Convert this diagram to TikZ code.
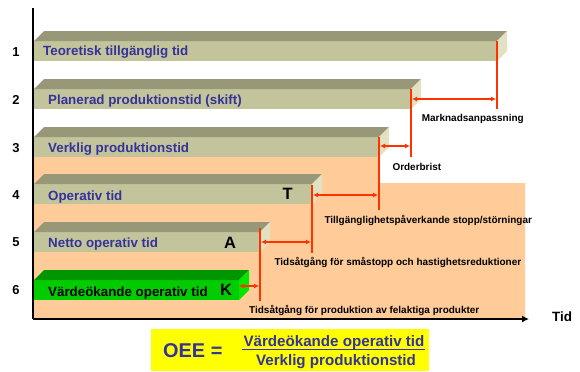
\documentclass[tikz,border=0pt]{standalone}
\usepackage{fontspec}
\setmainfont{Liberation Sans}
\usetikzlibrary{arrows.meta}
\definecolor{peach}{RGB}{255,204,153}
\definecolor{barfront}{RGB}{196,196,156}
\definecolor{bartop}{RGB}{152,152,120}
\definecolor{barside}{RGB}{226,226,194}
\definecolor{gfront}{RGB}{0,204,0}
\definecolor{gtop}{RGB}{0,150,0}
\definecolor{gside}{RGB}{0,232,0}
\definecolor{txtblue}{RGB}{51,51,153}
\definecolor{redline}{RGB}{255,51,0}
\definecolor{boxyellow}{RGB}{255,255,0}
\newcommand\drawbar[5]{%
  \fill[#3] (34,#1) rectangle (#2,#1+20);
  \fill[#4] (34,#1) -- (44,#1-10) -- (#2+10,#1-10) -- (#2,#1) -- cycle;
  \fill[#5] (#2,#1) -- (#2+10,#1-10) -- (#2+10,#1+10) -- (#2,#1+20) -- cycle;
}
\tikzset{
  rownum/.style={anchor=base, inner sep=0pt, font=\fontsize{13}{15}\selectfont\bfseries},
  barlabel/.style={anchor=base west, inner sep=0pt, font=\fontsize{13.4}{15}\selectfont\bfseries, text=txtblue},
  letter/.style={anchor=base west, inner sep=0pt, font=\fontsize{16.5}{18}\selectfont\bfseries},
  smalllabel/.style={anchor=base west, inner sep=0pt, font=\fontsize{10}{12}\selectfont\bfseries},
  redv/.style={draw=redline, line width=2bp},
  reda/.style={draw=redline, line width=1.6bp, {Latex[length=5bp,width=5bp]}-{Latex[length=5bp,width=5bp]}},
  axis/.style={draw=black, line width=2bp},
}
\begin{document}
\begin{tikzpicture}[x=1bp, y=-1bp]
\useasboundingbox (0,0) rectangle (580,371);
% peach background
\fill[peach] (33,147) -- (380,147) -- (380,183) -- (525,183) -- (525,319) -- (33,319) -- cycle;
% axes
\coordinate (ytop) at (33,8);
\coordinate (orig) at (33,319);
\coordinate (xend) at (529,319);
\draw[axis] (ytop) -- (orig);
\draw[axis, -{Latex[length=7bp,width=7bp]}] (orig) -- (xend);
\node[anchor=base west, inner sep=0pt, font=\fontsize{13.5}{15}\selectfont\bfseries] (tid) at (552,321.7) {Tid};
% bars
\drawbar{41}{497}{barfront}{bartop}{barside}
\drawbar{89}{411}{barfront}{bartop}{barside}
\drawbar{137}{379}{barfront}{bartop}{barside}
\drawbar{184}{312}{barfront}{bartop}{barside}
\drawbar{232}{260}{barfront}{bartop}{barside}
\drawbar{280}{239}{gfront}{gtop}{gside}
% row numbers
\node[rownum] (r1) at (16,56) {1};
\node[rownum] (r2) at (16,104.3) {2};
\node[rownum] (r3) at (16,152.3) {3};
\node[rownum] (r4) at (16,199) {4};
\node[rownum] (r5) at (16,246.7) {5};
\node[rownum] (r6) at (16,294.3) {6};
% bar labels
\node[barlabel] (l1) at (43,55) {Teoretisk tillgänglig tid};
\node[barlabel] (l2) at (48,104) {Planerad produktionstid (skift)};
\node[barlabel] (l3) at (48,152) {Verklig produktionstid};
\node[barlabel] (l4) at (48,200) {Operativ tid};
\node[barlabel] (l5) at (48,247.5) {Netto operativ tid};
\node[barlabel, text=black] (l6) at (48,296) {Värdeökande operativ tid};
\node[letter] (T) at (282.3,199) {T};
\node[letter] (A) at (224,248.3) {A};
\node[letter] (K) at (220,295.7) {K};
% red vertical lines
\coordinate (v1t) at (497,41);  \coordinate (v1b) at (497,109);
\coordinate (v2t) at (411,89);  \coordinate (v2b) at (411,157);
\coordinate (v3t) at (379,137); \coordinate (v3b) at (379,210);
\coordinate (v4t) at (312,185); \coordinate (v4b) at (312,253);
\coordinate (v5t) at (260,228); \coordinate (v5b) at (260,301);
\draw[redv] (v1t) -- (v1b);
\draw[redv] (v2t) -- (v2b);
\draw[redv] (v3t) -- (v3b);
\draw[redv] (v4t) -- (v4b);
\draw[redv] (v5t) -- (v5b);
% red double arrows
\coordinate (a1l) at (412,99);  \coordinate (a1r) at (496,99);
\coordinate (a2l) at (380,146); \coordinate (a2r) at (410,146);
\coordinate (a3l) at (313,195); \coordinate (a3r) at (378,195);
\coordinate (a4l) at (261,242); \coordinate (a4r) at (311,242);
\coordinate (a5l) at (239,286); \coordinate (a5r) at (259,286);
\draw[reda] (a1l) -- (a1r);
\draw[reda] (a2l) -- (a2r);
\draw[reda] (a3l) -- (a3r);
\draw[reda] (a4l) -- (a4r);
\draw[reda] (a5l) -- (a5r);
% small labels
\node[smalllabel] (s1) at (421.7,121.3) {Marknadsanpassning};
\node[smalllabel] (s2) at (392.3,170) {Orderbrist};
\node[smalllabel] (s3) at (324.3,223) {Tillgänglighetspåverkande stopp/störningar};
\node[smalllabel] (s4) at (274.3,265) {Tidsåtgång för småstopp och hastighetsreduktioner};
\node[smalllabel] (s5) at (249,313.3) {Tidsåtgång för produktion av felaktiga produkter};
% OEE box
\fill[boxyellow] (151,329) rectangle (429,371);
\node[anchor=base west, inner sep=0pt, font=\fontsize{20}{22}\selectfont\bfseries, text=txtblue] (oee) at (163,357.3) {OEE =};
\node[anchor=base, inner sep=0pt, font=\fontsize{15.2}{17}\selectfont\bfseries, text=txtblue] (num) at (334,346.5) {Värdeökande operativ tid};
\node[anchor=base, inner sep=0pt, font=\fontsize{15.2}{17}\selectfont\bfseries, text=txtblue] (den) at (336,365.7) {Verklig produktionstid};
\coordinate (fl) at (242,349.5); \coordinate (fr) at (425,349.5);
\draw[txtblue, line width=1.5bp] (fl) -- (fr);
\end{tikzpicture}
\end{document}
